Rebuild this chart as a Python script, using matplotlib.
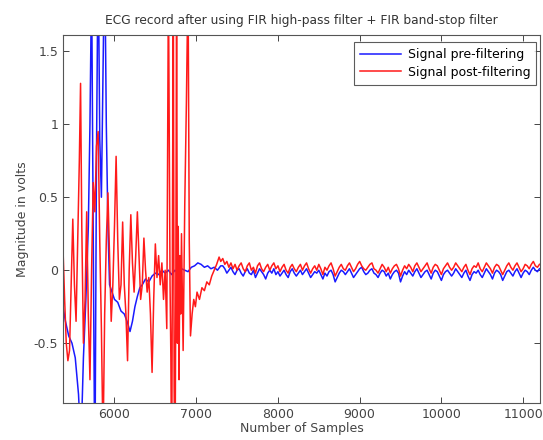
import numpy as np
import matplotlib
matplotlib.use('Agg')
import matplotlib.pyplot as plt

# ---- data (sample index, volts) ----
# unstable start of the record, pre-filtering (blue)
pre_start_x = [5370, 5400, 5440, 5480, 5520, 5560, 5590, 5620, 5650, 5680,
               5700, 5720, 5745, 5760, 5780, 5800, 5820, 5840, 5860, 5880,
               5900, 5920, 5940, 5970, 6000, 6040, 6080, 6120, 6160, 6190,
               6220, 6250, 6280, 6310, 6340, 6380, 6420, 6460, 6500, 6540,
               6580, 6620, 6660, 6700, 6740, 6780, 6820, 6860, 6900, 6940,
               6980, 7020, 7060, 7100, 7140, 7180, 7220, 7260, 7300]
pre_start_y = [-0.25, -0.35, -0.45, -0.5, -0.6, -0.85, -1.2, -0.6, -0.2, 0.3,
               1.0, 2.0, -0.2, -1.5, 0.8, 2.2, 0.9, 0.5, 1.4, 2.2,
               1.0, 0.3, -0.1, -0.15, -0.2, -0.22, -0.28, -0.3, -0.36, -0.42,
               -0.35, -0.25, -0.18, -0.12, -0.1, -0.06, -0.08, -0.04, -0.02, -0.03,
               0.0, -0.02, 0.0, -0.03, 0.0, -0.02, 0.01, 0.0, -0.01, 0.02,
               0.03, 0.05, 0.04, 0.02, 0.03, 0.01, 0.02, 0.0, 0.03]

# unstable start of the record, post-filtering (red)
post_start_x = [5370, 5390, 5410, 5430, 5450, 5470, 5490, 5510, 5530, 5550,
                5570, 5585, 5600, 5620, 5640, 5660, 5680, 5700, 5720, 5740,
                5760, 5780, 5800, 5820, 5840, 5860, 5880, 5900, 5920, 5940,
                5960, 5980, 6000, 6020, 6040, 6060, 6080, 6100, 6120, 6140,
                6160, 6180, 6200, 6220, 6240, 6260, 6280, 6300, 6320, 6340,
                6360, 6380, 6400, 6420, 6440, 6460, 6480, 6500, 6520, 6540,
                6560, 6580, 6600, 6620, 6640, 6660, 6680, 6690, 6700, 6710,
                6720, 6730, 6740, 6750, 6760, 6770, 6780, 6790, 6800, 6810,
                6820, 6840, 6860, 6880, 6900, 6915, 6930, 6950, 6970, 6990,
                7010, 7040, 7070, 7100, 7130, 7160, 7190, 7220, 7250, 7280,
                7300]
post_start_y = [0.15, -0.2, -0.5, -0.62, -0.55, -0.1, 0.35, -0.1, -0.35, 0.2,
                0.75, 1.28, 0.3, -0.5, -0.2, 0.4, -0.3, -0.75, 0.0, 0.6,
                0.4, 0.85, 0.95, 0.2, -0.4, -1.2, -0.3, 0.2, 0.53, 0.1,
                -0.35, -0.1, 0.3, 0.78, 0.2, -0.2, -0.1, 0.33, -0.1, -0.3,
                -0.62, 0.0, 0.38, 0.05, -0.15, 0.1, 0.4, 0.1, -0.2, -0.1,
                0.22, 0.0, -0.15, -0.05, -0.3, -0.7, -0.2, 0.18, -0.05, 0.1,
                -0.1, 0.05, -0.2, 0.0, -0.4, 2.0, -0.1, -0.6, -1.5, 0.4,
                2.0, -0.8, -1.5, -0.2, 2.0, -0.5, 0.3, -0.75, 0.1, -0.3,
                0.25, -0.55, 0.45, 1.15, 2.0, 0.2, -0.45, -0.3, -0.2, -0.25,
                -0.15, -0.2, -0.12, -0.14, -0.08, -0.1, -0.04, 0.0, 0.04, 0.09,
                0.06]

# settled part of the record, one value every 25 samples from 7325 to 11200
steady_x = np.arange(7325, 11201, 25)
pre_steady_y = [0.03, 0.01, -0.02, 0.0, 0.02, -0.01, -0.03, 0.0, 0.01, -0.02, -0.04, -0.01,
                0.01, -0.02, -0.03, 0.0, -0.05, -0.02, 0.01, -0.01, -0.03, -0.06, -0.02, 0.0,
                -0.02, 0.01, -0.03, -0.01, -0.04, -0.02, 0.0, -0.03, -0.05, -0.01, 0.01, -0.02,
                -0.04, -0.02, 0.0, -0.03, -0.01, 0.01, -0.02, -0.05, -0.03, -0.01, -0.02, 0.0,
                -0.03, -0.06, -0.02, -0.04, -0.01, 0.0, -0.03, -0.08, -0.05, -0.02, 0.0, -0.01,
                -0.03, -0.01, 0.01, -0.02, -0.05, -0.03, -0.01, 0.01, 0.02, -0.01, -0.03, -0.02,
                0.0, 0.01, -0.02, -0.03, -0.05, -0.02, 0.0, -0.01, -0.04, -0.02, -0.06, -0.03,
                -0.01, 0.0, -0.02, -0.08, -0.04, -0.01, -0.03, 0.0, -0.02, -0.04, -0.01, 0.01,
                -0.02, -0.05, -0.03, -0.01, 0.0, -0.03, -0.06, -0.02, 0.0, -0.01, -0.04, -0.07,
                -0.03, -0.01, 0.0, -0.02, -0.04, -0.02, 0.01, -0.01, -0.03, -0.05, -0.02, 0.0,
                -0.04, -0.07, -0.03, -0.01, -0.02, 0.0, -0.03, -0.05, -0.02, 0.01, -0.01, -0.03,
                -0.06, -0.02, 0.0, -0.01, -0.03, -0.07, -0.04, -0.01, 0.0, -0.02, -0.04, -0.01,
                0.01, -0.02, -0.05, -0.02, 0.0, -0.01, -0.03, 0.0, 0.02, 0.0, -0.01, 0.01]
post_steady_y = [0.08, 0.04, 0.06, 0.02, 0.05, 0.01, 0.04, 0.0, 0.03, 0.05, 0.01, -0.01,
                 0.03, 0.05, 0.0, 0.02, -0.02, 0.03, 0.05, 0.01, -0.01, 0.02, 0.04, 0.0,
                 0.03, 0.05, 0.01, 0.03, -0.01, 0.02, 0.04, 0.0, -0.02, 0.02, 0.04, 0.01,
                 -0.01, 0.02, 0.04, 0.0, 0.03, 0.05, 0.01, -0.02, 0.01, 0.03, 0.0, 0.04,
                 0.01, -0.03, 0.02, 0.0, 0.03, 0.05, 0.01, -0.04, -0.01, 0.02, 0.04, 0.01,
                 0.0, 0.03, 0.05, 0.02, -0.01, 0.01, 0.04, 0.06, 0.03, 0.01, 0.0, 0.02,
                 0.04, 0.05, 0.01, 0.0, -0.02, 0.01, 0.04, 0.02, -0.01, 0.02, -0.02, 0.01,
                 0.03, 0.04, 0.01, -0.04, 0.0, 0.03, 0.01, 0.04, 0.02, -0.01, 0.03, 0.05,
                 0.02, -0.01, 0.01, 0.03, 0.05, 0.01, -0.02, 0.02, 0.04, 0.03, 0.0, -0.03,
                 0.01, 0.03, 0.05, 0.02, 0.0, 0.02, 0.05, 0.03, 0.01, -0.01, 0.02, 0.04,
                 0.0, -0.03, 0.01, 0.03, 0.02, 0.05, 0.01, -0.01, 0.02, 0.05, 0.03, 0.01,
                 -0.02, 0.02, 0.04, 0.03, 0.0, -0.03, 0.0, 0.03, 0.05, 0.02, 0.0, 0.03,
                 0.05, 0.02, -0.01, 0.01, 0.04, 0.03, 0.01, 0.04, 0.06, 0.03, 0.02, 0.04]

xticks = [6000, 7000, 8000, 9000, 10000, 11000]
yticks = [-0.5, 0, 0.5, 1, 1.5]

# join both parts of each signal
pre_x = list(pre_start_x) + list(steady_x)
pre_y = pre_start_y + pre_steady_y
post_x = list(post_start_x) + list(steady_x)
post_y = post_start_y + post_steady_y

plt.rcParams['font.family'] = ['DejaVu Sans']

fig = plt.figure(figsize=(5.43, 4.40), dpi=100)
ax = fig.add_axes([0.116, 0.084, 0.879, 0.836])

ax.plot(pre_x, pre_y, color='#1a1aff', linewidth=1.1, label='Signal pre-filtering')
ax.plot(post_x, post_y, color='#ff1a1a', linewidth=1.1, label='Signal post-filtering')

ax.set_xlim(5370, 11210)
ax.set_ylim(-0.91, 1.61)
ax.set_xticks(xticks)
ax.set_xticklabels([str(t) for t in xticks])
ax.set_yticks(yticks)
ax.set_yticklabels(['-0.5', '0', '0.5', '1', '1.5'])
ax.tick_params(direction='in', top=True, right=True, length=4, width=0.7,
               labelsize=9, colors='#444444', labelcolor='#444444')
for s in ax.spines.values():
    s.set_color('#555555')
    s.set_linewidth(0.8)

ax.set_title('ECG record after using FIR high-pass filter + FIR band-stop filter',
             fontsize=8.8, color='#333333', pad=8)
ax.set_xlabel('Number of Samples', fontsize=9, color='#444444', labelpad=1)
ax.set_ylabel('Magnitude in volts', fontsize=9, color='#444444', labelpad=3)

leg = ax.legend(loc='upper right', fontsize=9, frameon=True, fancybox=False,
                borderpad=0.5, handlelength=3.3, labelspacing=0.35,
                handletextpad=0.5, borderaxespad=0,
                bbox_to_anchor=(0.992, 0.981))
leg.get_frame().set_edgecolor('#333333')
leg.get_frame().set_linewidth(0.8)

fig.savefig('out.png', dpi=100)
